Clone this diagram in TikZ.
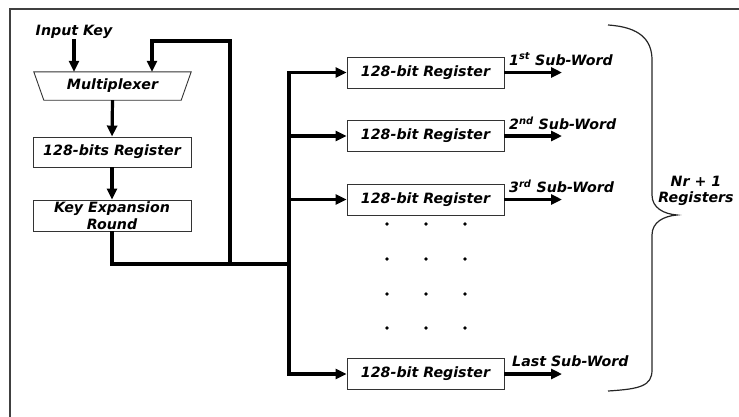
\documentclass[tikz,border=0pt]{standalone}
\usepackage{fontspec}
\setmainfont{DejaVu Sans}
\usetikzlibrary{arrows.meta}
\begin{document}
\begin{tikzpicture}[x=1pt,y=-1pt,
  txt/.style={font=\fontsize{14.2}{16.5}\selectfont\bfseries\itshape, inner sep=0pt},
  regbox/.style={draw=black!80, line width=0.9pt, txt, minimum height=31pt, minimum width=157pt, align=center},
  bus/.style={line width=3.2pt, line join=miter},
  arr/.style={line width=3.2pt, line join=miter, -{Triangle[length=11pt,width=10pt]}},
  dotmark/.style={circle, fill=black, inner sep=0pt, minimum size=3.8pt}]
\useasboundingbox (0,0) rectangle (739,416);
% frame
\draw[black!75, line width=2pt] (10,425) -- (10,9) -- (750,9);

% left column
\node[txt] (ik) at (74,32) {Input Key};
\node[txt, minimum width=157pt, minimum height=28pt] (mux) at (112.5,86) {Multiplexer};
\draw[black!80, line width=0.9pt] (mux.north west) -- (mux.north east)
  -- ([xshift=-10pt]mux.south east) -- ([xshift=10pt]mux.south west) -- cycle;
\node[regbox, minimum width=158pt, minimum height=30pt] (r0) at (112,152) {128-bits Register};
\node[regbox, minimum width=158pt] (ke) at (112,215.5) {Key Expansion\\Round};

\coordinate (j1) at (230,264);
\coordinate (fbtop) at (152,41);
\coordinate (bj) at (289,264);
\coordinate (bx) at (289,0);
\coordinate (ox) at (562,0);

\draw[arr] (ik.south) -- (ik.south |- mux.north);
\draw[arr] (j1) |- (fbtop) -- (fbtop |- mux.north);
\draw[arr] (mux.south) -- (r0.north);
\draw[arr] (r0.south) -- (ke.north);
\draw[bus] (ke.south) |- (bj);

% right column registers
\node[regbox] (r1) at (425.5,72.5) {128-bit Register};
\node[regbox] (r2) at (425.5,136) {128-bit Register};
\node[regbox] (r3) at (425.5,199.5) {128-bit Register};
\node[regbox] (r4) at (425.5,374) {128-bit Register};

\draw[bus, line cap=rect] (r1.west -| bx) -- (r4.west -| bx);
\foreach \r in {r1,r2,r3,r4}{
  \draw[arr] (\r.west -| bx) -- (\r.west);
  \draw[arr] (\r.east) -- (\r.east -| ox);
}

% labels
\node[txt, anchor=west] (l1) at (509,59) {1\textsuperscript{st} Sub-Word};
\node[txt, anchor=west] (l2) at (509,123) {2\textsuperscript{nd} Sub-Word};
\node[txt, anchor=west] (l3) at (509,186.5) {3\textsuperscript{rd} Sub-Word};
\node[txt, anchor=west] (l4) at (512,361) {Last Sub-Word};

% dots
\foreach \x in {387,426,465}{
  \foreach \y in {224,259,294,328}{
    \node[dotmark] at (\x,\y) {};
  }
}

% brace
\draw[black!85, line width=1.2pt]
  (608,25) .. controls (640,27) and (652,40) .. (652,60)
  -- (652,195) .. controls (652,208) and (664,214) .. (677,215)
  .. controls (664,216) and (652,222) .. (652,235)
  -- (652,370) .. controls (652,386) and (640,389) .. (608,391);
\node[txt, align=center] (nr) at (696,191) {Nr + 1\\Registers};
\end{tikzpicture}
\end{document}
